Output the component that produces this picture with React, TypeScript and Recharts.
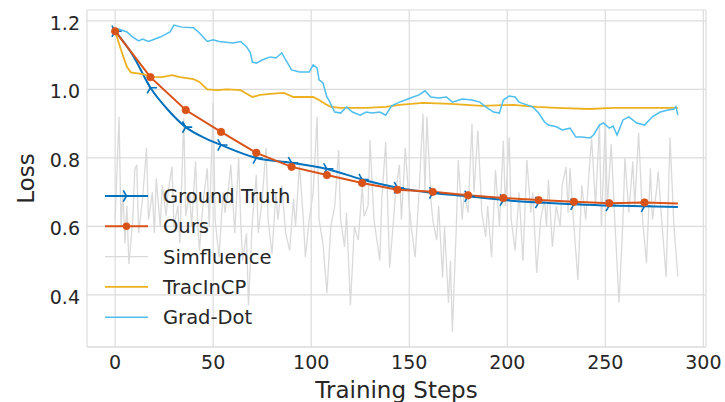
import { LineChart, Line, XAxis, YAxis, CartesianGrid } from 'recharts';

// Loss curves over training steps
const gtSteps = [0, 9, 18, 27, 36, 45, 54, 72, 90, 108, 126, 144, 162, 180, 198, 216, 234, 252, 270, 287];
const gtLoss = [1.17, 1.1, 1.005, 0.94, 0.89, 0.86, 0.838, 0.8, 0.786, 0.768, 0.737, 0.713, 0.698, 0.688, 0.677, 0.67, 0.665, 0.661, 0.659, 0.657];

const oursSteps = [0, 18, 36, 54, 72, 90, 108, 126, 144, 162, 180, 198, 216, 234, 252, 270, 287];
const oursLoss = [1.17, 1.036, 0.94, 0.876, 0.815, 0.774, 0.75, 0.727, 0.707, 0.701, 0.691, 0.683, 0.677, 0.672, 0.668, 0.67, 0.667];

const tracSteps = [0, 3, 6, 8, 14, 19, 24, 29, 33, 40, 43, 47, 52, 57, 64, 70, 74, 79, 86, 91, 101, 104, 107, 110, 115, 128, 138, 145, 157, 171, 187, 203, 215, 225, 242, 254, 271, 287];
const tracLoss = [1.17, 1.115, 1.066, 1.05, 1.045, 1.037, 1.036, 1.042, 1.036, 1.03, 1.022, 1.0, 0.998, 1.0, 0.998, 0.978, 0.984, 0.987, 0.99, 0.978, 0.978, 0.969, 0.958, 0.949, 0.946, 0.946, 0.949, 0.955, 0.961, 0.958, 0.952, 0.955, 0.949, 0.946, 0.943, 0.946, 0.946, 0.946];

const gradSteps = [0, 2, 6, 9, 12, 14, 17, 23, 28, 30, 34, 40, 43, 47, 50, 53, 60, 64, 67, 69, 70, 72, 75, 79, 82, 85, 87, 90, 94, 99, 101, 103, 104, 106, 108, 109, 112, 115, 118, 121, 125, 128, 131, 135, 138, 141, 145, 148, 152, 155, 158, 161, 165, 169, 172, 177, 182, 186, 189, 193, 196, 198, 201, 204, 206, 210, 213, 216, 219, 221, 225, 228, 232, 235, 238, 242, 244, 247, 249, 252, 254, 256, 259, 262, 266, 270, 274, 278, 282, 285, 286, 287];
const gradLoss = [1.168, 1.176, 1.168, 1.153, 1.142, 1.147, 1.14, 1.153, 1.168, 1.188, 1.182, 1.18, 1.165, 1.14, 1.145, 1.14, 1.136, 1.14, 1.125, 1.107, 1.08, 1.077, 1.086, 1.095, 1.092, 1.107, 1.086, 1.057, 1.051, 1.051, 1.072, 1.063, 1.028, 1.019, 0.978, 0.969, 0.934, 0.931, 0.949, 0.934, 0.925, 0.934, 0.931, 0.934, 0.925, 0.952, 0.963, 0.969, 0.978, 0.984, 0.996, 0.978, 0.975, 0.978, 0.963, 0.972, 0.969, 0.963, 0.949, 0.934, 0.931, 0.969, 0.981, 0.978, 0.963, 0.955, 0.949, 0.931, 0.905, 0.896, 0.891, 0.882, 0.887, 0.861, 0.861, 0.858, 0.867, 0.896, 0.902, 0.887, 0.893, 0.867, 0.911, 0.92, 0.902, 0.896, 0.92, 0.934, 0.94, 0.943, 0.95, 0.925];

const simSteps = [0, 2, 3, 4, 5, 6, 7, 9, 10, 11, 12, 14, 16, 17, 19, 20, 21, 23, 24, 26, 27, 29, 30, 32, 33, 35, 36, 38, 39, 41, 42, 43, 45, 47, 48, 50, 51, 53, 55, 56, 58, 59, 61, 63, 64, 65, 67, 68, 70, 72, 73, 75, 77, 78, 80, 82, 83, 85, 87, 89, 91, 92, 94, 96, 97, 99, 101, 103, 104, 106, 108, 110, 112, 114, 115, 117, 118, 120, 122, 124, 126, 127, 129, 130, 132, 133, 135, 136, 138, 140, 142, 143, 145, 146, 148, 150, 151, 153, 155, 157, 158, 159, 161, 162, 164, 165, 167, 168, 170, 171, 172, 174, 175, 177, 178, 180, 182, 183, 185, 187, 189, 190, 192, 194, 196, 198, 199, 201, 202, 204, 206, 208, 210, 212, 213, 215, 217, 219, 220, 221, 223, 225, 227, 228, 230, 231, 232, 234, 236, 238, 240, 241, 243, 245, 247, 248, 250, 251, 253, 255, 257, 259, 260, 262, 264, 265, 267, 269, 271, 273, 274, 276, 277, 279, 281, 283, 285, 287];
const simLoss = [0.62, 0.92, 0.6, 0.7, 0.55, 0.66, 0.49, 0.62, 0.765, 0.78, 0.58, 0.68, 0.83, 0.62, 0.7, 0.58, 0.74, 0.6, 0.72, 0.63, 0.7, 0.775, 0.6, 0.66, 0.55, 0.917, 0.63, 0.7, 0.6, 0.79, 0.62, 0.53, 0.68, 0.77, 0.6, 0.96, 0.62, 0.51, 0.7, 0.64, 0.72, 0.78, 0.58, 0.8, 0.62, 0.5, 0.58, 0.37, 0.62, 0.75, 0.58, 0.68, 0.83, 0.62, 0.52, 0.7, 0.62, 0.72, 0.58, 0.53, 0.68, 0.6, 0.78, 0.62, 0.51, 0.62, 0.7, 0.92, 0.62, 0.55, 0.405, 0.6, 0.66, 0.823, 0.62, 0.54, 0.64, 0.37, 0.6, 0.56, 0.715, 0.63, 0.66, 0.853, 0.62, 0.58, 0.5, 0.68, 0.847, 0.48, 0.62, 0.7, 0.78, 0.62, 0.83, 0.66, 0.6, 0.51, 0.7, 0.93, 0.7, 0.92, 0.68, 0.62, 0.56, 0.66, 0.45, 0.6, 0.377, 0.5, 0.292, 0.6, 0.794, 0.62, 0.7, 0.64, 0.9, 0.7, 0.88, 0.64, 0.57, 0.66, 0.51, 0.765, 0.6, 0.85, 0.66, 0.86, 0.62, 0.53, 0.7, 0.5, 0.794, 0.64, 0.7, 0.464, 0.62, 0.68, 0.6, 0.736, 0.54, 0.66, 0.6, 0.72, 0.774, 0.64, 0.77, 0.6, 0.444, 0.72, 0.62, 0.7, 0.86, 0.66, 0.9, 0.6, 0.91, 0.66, 0.84, 0.6, 0.377, 0.62, 0.8, 0.64, 0.79, 0.66, 0.873, 0.62, 0.493, 0.77, 0.62, 0.7, 0.76, 0.6, 0.453, 0.86, 0.6, 0.453];

const xTicks = [0, 50, 100, 150, 200, 250, 300];
const yTicks = [0.4, 0.6, 0.8, 1.0, 1.2];

const C_GT = '#0072BD';
const C_OURS = '#D95319';
const C_SIM = '#dadada';
const C_TRAC = '#EDB120';
const C_GRAD = '#4DBEEE';
const FONT = '"DejaVu Sans", sans-serif';
const MARK_EVERY = 18;

const toRows = (steps: number[], loss: number[]) => steps.map((step, i) => ({ step, loss: loss[i] }));

const triPath = (cx: number, cy: number, r: number) =>
  `M${cx},${cy}L${cx + r},${cy}M${cx},${cy}L${cx - r / 2},${cy - r * 0.866}M${cx},${cy}L${cx - r / 2},${cy + r * 0.866}`;

const TriDot = (props: any) => {
  const { cx, cy, payload, index } = props;
  if (payload.step % MARK_EVERY !== 0) return <g key={`t${index}`} />;
  return <path key={`t${index}`} d={triPath(cx, cy, 6.5)} stroke={C_GT} strokeWidth={1.6} fill="none" />;
};

const RoundDot = (props: any) => {
  const { cx, cy, payload, index } = props;
  if (payload.step % MARK_EVERY !== 0) return <g key={`o${index}`} />;
  return <circle key={`o${index}`} cx={cx} cy={cy} r={3.7} fill={C_OURS} stroke={C_OURS} strokeWidth={0.8} />;
};

const legendItems = [
  { name: 'Ground Truth', color: C_GT, width: 2, mark: 'tri' },
  { name: 'Ours', color: C_OURS, width: 2, mark: 'dot' },
  { name: 'Simfluence', color: C_SIM, width: 1.3, mark: '' },
  { name: 'TracInCP', color: C_TRAC, width: 1.8, mark: '' },
  { name: 'Grad-Dot', color: C_GRAD, width: 1.5, mark: '' },
];

function LegendBox() {
  return (
    <svg width={725} height={402} style={{ position: 'absolute', left: 0, top: 0, pointerEvents: 'none' }}>
      {legendItems.map((it, i) => {
        const y = 196 + i * 30.3;
        return (
          <g key={it.name}>
            <line x1={105} x2={148} y1={y} y2={y} stroke={it.color} strokeWidth={it.width} />
            {it.mark === 'tri' && <path d={triPath(126.5, y, 6.5)} stroke={it.color} strokeWidth={1.6} fill="none" />}
            {it.mark === 'dot' && <circle cx={126.5} cy={y} r={3.7} fill={it.color} />}
            <text x={163} y={y + 7} fontSize={19.5} fontFamily={FONT} fill="#262626">
              {it.name}
            </text>
          </g>
        );
      })}
    </svg>
  );
}

export default function App() {
  const tickStyle = { fill: '#262626', fontSize: 19, fontFamily: FONT };
  return (
    <div style={{ position: 'absolute', left: 0, top: 0, width: 725, height: 402, background: '#fff' }}>
      <LineChart width={725} height={402} margin={{ top: 10, right: 19, bottom: 0, left: 0 }}>
        <CartesianGrid stroke="#dcdcdc" strokeWidth={1.2} />
        <XAxis
          dataKey="step"
          type="number"
          domain={[-14.35, 301.35]}
          ticks={xTicks}
          allowDataOverflow
          height={55}
          tickLine={false}
          tickSize={0}
          tickMargin={9}
          axisLine={{ stroke: '#dcdcdc', strokeWidth: 1.2 }}
          tick={tickStyle}
          label={{ value: 'Training Steps', position: 'insideBottom', offset: 4, style: { fill: '#262626', fontSize: 23, fontFamily: FONT } }}
        />
        <YAxis
          type="number"
          domain={[0.248, 1.232]}
          ticks={yTicks}
          allowDataOverflow
          width={87}
          axisLine={false}
          tickLine={false}
          tickSize={0}
          tickMargin={7}
          tick={{ ...tickStyle, dy: 2 }}
          tickFormatter={(v: number) => v.toFixed(1)}
          label={{ value: 'Loss', angle: -90, position: 'insideLeft', offset: 26, style: { textAnchor: 'middle', fill: '#262626', fontSize: 23, fontFamily: FONT } }}
        />
        <Line data={toRows(simSteps, simLoss)} dataKey="loss" type="linear" stroke={C_SIM} strokeWidth={1.3} dot={false} isAnimationActive={false} />
        <Line data={toRows(gtSteps, gtLoss)} dataKey="loss" type="monotone" stroke={C_GT} strokeWidth={2} dot={TriDot} activeDot={false} isAnimationActive={false} />
        <Line data={toRows(oursSteps, oursLoss)} dataKey="loss" type="linear" stroke={C_OURS} strokeWidth={2} dot={RoundDot} activeDot={false} isAnimationActive={false} />
        <Line data={toRows(tracSteps, tracLoss)} dataKey="loss" type="linear" stroke={C_TRAC} strokeWidth={1.8} dot={false} isAnimationActive={false} />
        <Line data={toRows(gradSteps, gradLoss)} dataKey="loss" type="linear" stroke={C_GRAD} strokeWidth={1.5} dot={false} isAnimationActive={false} />
      </LineChart>
      <LegendBox />
    </div>
  );
}
